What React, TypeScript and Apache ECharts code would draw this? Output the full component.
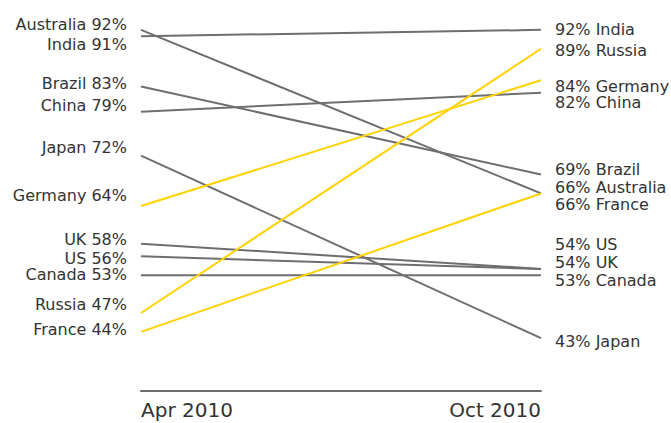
import React, { useEffect, useRef } from "react";
import * as echarts from "echarts";

// Survey share by country, April vs October 2010
const periods = ["Apr 2010", "Oct 2010"];
const countries = ["Australia", "India", "Brazil", "China", "Japan", "Germany", "UK", "US", "Canada", "Russia", "France"];
const aprValues = [92, 91, 83, 79, 72, 64, 58, 56, 53, 47, 44];
const octValues = [66, 92, 69, 82, 43, 84, 54, 54, 53, 89, 66];
// Countries whose line is highlighted in yellow
const highlighted = ["Germany", "Russia", "France"];

// Vertical nudges (px, same order as countries) that keep the end labels apart
const leftNudge = [-5, 8, -3, -6, -8, -11, -4, 2, -1, -8, -2];
const rightNudge = [-6, 0, -5, 10, 3, 6, -6, -24, 5, 2, 11];

const GREY = "#6e6e70";
const YELLOW = "#ffd200";
const TEXT = "#333333";
const FONT = "'DejaVu Sans', sans-serif";

export default function App() {
  const ref = useRef<HTMLDivElement>(null);

  useEffect(() => {
    if (!ref.current) return;
    const chart = echarts.init(ref.current, undefined, { renderer: "svg" });

    const series = countries.map((name, i) => {
      const hot = highlighted.includes(name);
      return {
        name,
        type: "line",
        symbol: "circle",
        symbolSize: 0,
        z: hot ? 3 : 2,
        lineStyle: { color: hot ? YELLOW : GREY, width: 2 },
        itemStyle: { color: hot ? YELLOW : GREY },
        emphasis: { disabled: true },
        data: [
          {
            value: aprValues[i],
            label: {
              show: true,
              position: "left",
              distance: 14,
              formatter: `${name} ${aprValues[i]}%`,
            },
          },
          {
            value: octValues[i],
            label: {
              show: true,
              position: "right",
              distance: 14,
              formatter: `${octValues[i]}% ${name}`,
            },
          },
        ],
        label: { color: TEXT, fontSize: 16, lineHeight: 16, fontFamily: FONT },
        labelLayout: (p: any) => ({ dy: p.dataIndex === 0 ? leftNudge[i] : rightNudge[i] }),
      };
    });

    chart.setOption({
      animation: false,
      grid: { left: 141, right: 130, top: 11, bottom: 66 },
      xAxis: {
        type: "category",
        boundaryGap: false,
        data: [
          { value: periods[0], textStyle: { align: "left" } },
          { value: periods[1], textStyle: { align: "right" } },
        ],
        offset: 34,
        axisLine: { lineStyle: { color: GREY, width: 2 } },
        axisTick: { show: false },
        axisLabel: { color: TEXT, fontSize: 20, fontFamily: FONT, margin: 9 },
        splitLine: { show: false },
      },
      yAxis: {
        type: "value",
        min: 40,
        max: 95,
        show: false,
      },
      series,
    });

    return () => chart.dispose();
  }, []);

  return <div ref={ref} style={{ width: 671, height: 423, position: "absolute", left: 0, top: 0 }} />;
}
